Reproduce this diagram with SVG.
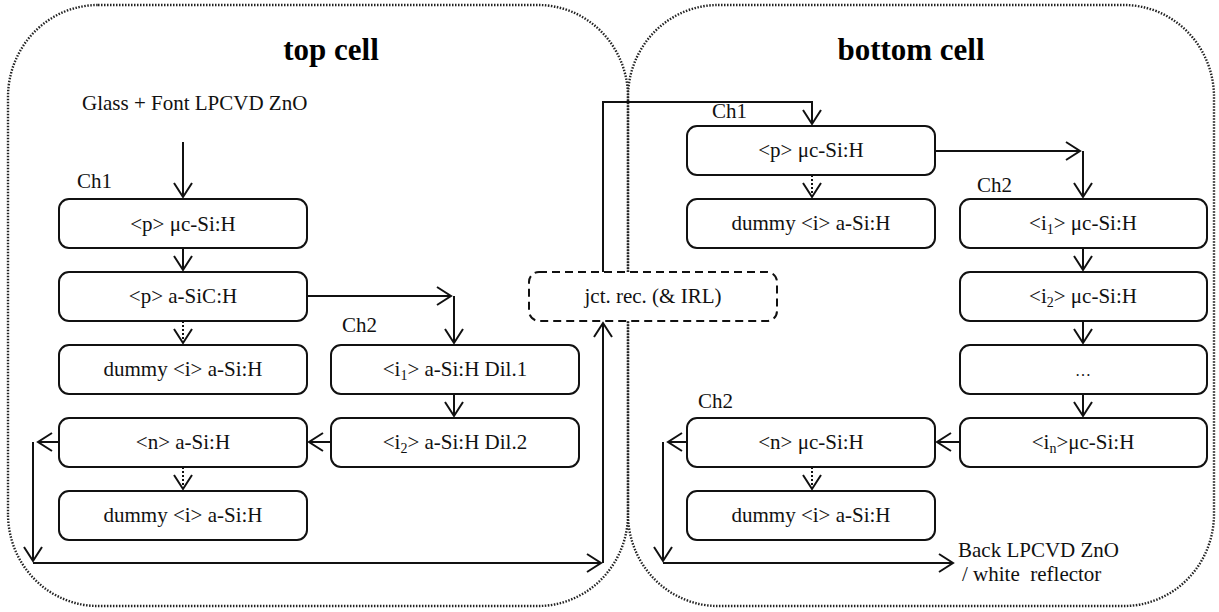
<svg xmlns="http://www.w3.org/2000/svg" width="1219" height="612" viewBox="0 0 1219 612">
<style>
.cell{fill:none;stroke:#222;stroke-width:2.4;stroke-dasharray:1.5 1.5}
.box{fill:#fff;stroke:#111;stroke-width:2}
.jct{fill:#fff;stroke:#111;stroke-width:2;stroke-dasharray:8 5}
text{font-family:'Liberation Serif','Times New Roman',Times,'DejaVu Serif',serif;fill:#111}
.t{font-size:21px;text-anchor:middle}
.l{font-size:21px}
.title{font-size:31px;font-weight:bold;fill:#000;text-anchor:middle}
.sub{font-size:14px}
.c{fill:none;stroke:#111;stroke-width:2;marker-end:url(#ah)}
.d{stroke-dasharray:2 2}
</style>
<defs>
<marker id="ah" markerUnits="userSpaceOnUse" markerWidth="24" markerHeight="24" viewBox="-16 -12 24 24" refX="0" refY="0" orient="auto" overflow="visible">
<path d="M-14,-9 L0,0 L-14,9" fill="none" stroke="#111" stroke-width="2" stroke-dasharray="none"/>
</marker>
</defs>
<rect width="1219" height="612" fill="#fff"/>
<g id="cells">
<rect class="cell" x="8" y="5" width="620" height="601" rx="90" ry="92"/>
<rect class="cell" x="628" y="5" width="586" height="601" rx="90" ry="92"/>
</g>
<g id="titles">
<text class="title" x="331" y="60" font-family="Liberation Serif, serif">top cell</text>
<text class="title" x="911" y="60" font-family="Liberation Serif, serif">bottom cell</text>
<text class="l" x="82" y="110" font-family="Liberation Serif, serif">Glass + Font LPCVD ZnO</text>
<text class="l" x="77" y="188" font-family="Liberation Serif, serif">Ch1</text>
<text class="l" x="342" y="332" font-family="Liberation Serif, serif">Ch2</text>
<text class="l" x="712" y="118" font-family="Liberation Serif, serif">Ch1</text>
<text class="l" x="977" y="192" font-family="Liberation Serif, serif">Ch2</text>
<text class="l" x="698" y="408" font-family="Liberation Serif, serif">Ch2</text>
<text class="l" x="958" y="557" font-family="Liberation Serif, serif">Back LPCVD ZnO</text>
<text class="l" x="962" y="581" font-family="Liberation Serif, serif" style="white-space:pre">/ white  reflector</text>
</g>
<g id="connectors">
<path class="c" d="M183,142 V197"/>
<path class="c" d="M183,248 V270"/>
<path class="c d" d="M183,321 V343"/>
<path class="c" d="M307,296 H451"/>
<path class="c" d="M454,296 V343"/>
<path class="c" d="M454,394 V416"/>
<path class="c" d="M331,442 H309"/>
<path class="c d" d="M183,467 V489"/>
<path class="c" d="M59,442 H38"/>
<path class="c" d="M33,442 V561"/>
<path class="c" d="M33,563 H601"/>
<path class="c" d="M603,563 V323"/>
<path class="c" d="M603,272 V102 H812 V124"/>
<path class="c d" d="M812,175 V197"/>
<path class="c" d="M935,151 H1080"/>
<path class="c" d="M1083,151 V197"/>
<path class="c" d="M1083,248 V270"/>
<path class="c" d="M1083,321 V343"/>
<path class="c" d="M1083,394 V416"/>
<path class="c" d="M960,442 H937"/>
<path class="c d" d="M812,467 V489"/>
<path class="c" d="M687,442 H668"/>
<path class="c" d="M663,442 V561"/>
<path class="c" d="M663,563 H953"/>
</g>
<g id="jct">
<rect class="jct" x="529" y="272" width="248" height="49" rx="10"/>
<text class="t" x="653" y="303" font-family="Liberation Serif, serif">jct. rec. (&amp; IRL)</text>
</g>
<g id="top-p-uc">
<rect class="box" x="59" y="199" width="248" height="49" rx="10"/>
<text class="t" x="183" y="231" font-family="Liberation Serif, serif">&lt;p&gt; μc-Si:H</text>
</g>
<g id="top-p-asic">
<rect class="box" x="59" y="272" width="248" height="49" rx="10"/>
<text class="t" x="183" y="303" font-family="Liberation Serif, serif">&lt;p&gt; a-SiC:H</text>
</g>
<g id="top-dummy1">
<rect class="box" x="59" y="345" width="248" height="49" rx="10"/>
<text class="t" x="183" y="376" font-family="Liberation Serif, serif">dummy &lt;i&gt; a-Si:H</text>
</g>
<g id="top-n">
<rect class="box" x="59" y="418" width="248" height="49" rx="10"/>
<text class="t" x="183" y="449" font-family="Liberation Serif, serif">&lt;n&gt; a-Si:H</text>
</g>
<g id="top-dummy2">
<rect class="box" x="59" y="491" width="248" height="49" rx="10"/>
<text class="t" x="183" y="522" font-family="Liberation Serif, serif">dummy &lt;i&gt; a-Si:H</text>
</g>
<g id="top-i1">
<rect class="box" x="331" y="345" width="248" height="49" rx="10"/>
<text class="t" x="455" y="376" font-family="Liberation Serif, serif">&lt;i<tspan class="sub" dy="4">1</tspan><tspan dy="-4">&gt; a-Si:H Dil.1</tspan></text>
</g>
<g id="top-i2">
<rect class="box" x="331" y="418" width="248" height="49" rx="10"/>
<text class="t" x="455" y="449" font-family="Liberation Serif, serif">&lt;i<tspan class="sub" dy="4">2</tspan><tspan dy="-4">&gt; a-Si:H Dil.2</tspan></text>
</g>
<g id="bot-p-uc">
<rect class="box" x="687" y="126" width="248" height="49" rx="10"/>
<text class="t" x="811" y="157" font-family="Liberation Serif, serif">&lt;p&gt; μc-Si:H</text>
</g>
<g id="bot-dummy1">
<rect class="box" x="687" y="199" width="248" height="49" rx="10"/>
<text class="t" x="811" y="230" font-family="Liberation Serif, serif">dummy &lt;i&gt; a-Si:H</text>
</g>
<g id="bot-i1">
<rect class="box" x="960" y="199" width="247" height="49" rx="10"/>
<text class="t" x="1083" y="230" font-family="Liberation Serif, serif">&lt;i<tspan class="sub" dy="4">1</tspan><tspan dy="-4">&gt; μc-Si:H</tspan></text>
</g>
<g id="bot-i2">
<rect class="box" x="960" y="272" width="247" height="49" rx="10"/>
<text class="t" x="1083" y="303" font-family="Liberation Serif, serif">&lt;i<tspan class="sub" dy="4">2</tspan><tspan dy="-4">&gt; μc-Si:H</tspan></text>
</g>
<g id="bot-dots">
<rect class="box" x="960" y="345" width="247" height="49" rx="10"/>
<text class="t" x="1083" y="376" font-family="Liberation Serif, serif" style="font-size:16px">…</text>
</g>
<g id="bot-in">
<rect class="box" x="960" y="418" width="247" height="49" rx="10"/>
<text class="t" x="1083" y="449" font-family="Liberation Serif, serif">&lt;i<tspan class="sub" dy="4">n</tspan><tspan dy="-4">&gt;μc-Si:H</tspan></text>
</g>
<g id="bot-n">
<rect class="box" x="687" y="418" width="248" height="49" rx="10"/>
<text class="t" x="811" y="449" font-family="Liberation Serif, serif">&lt;n&gt; μc-Si:H</text>
</g>
<g id="bot-dummy2">
<rect class="box" x="687" y="491" width="248" height="49" rx="10"/>
<text class="t" x="811" y="522" font-family="Liberation Serif, serif">dummy &lt;i&gt; a-Si:H</text>
</g>
</svg>
